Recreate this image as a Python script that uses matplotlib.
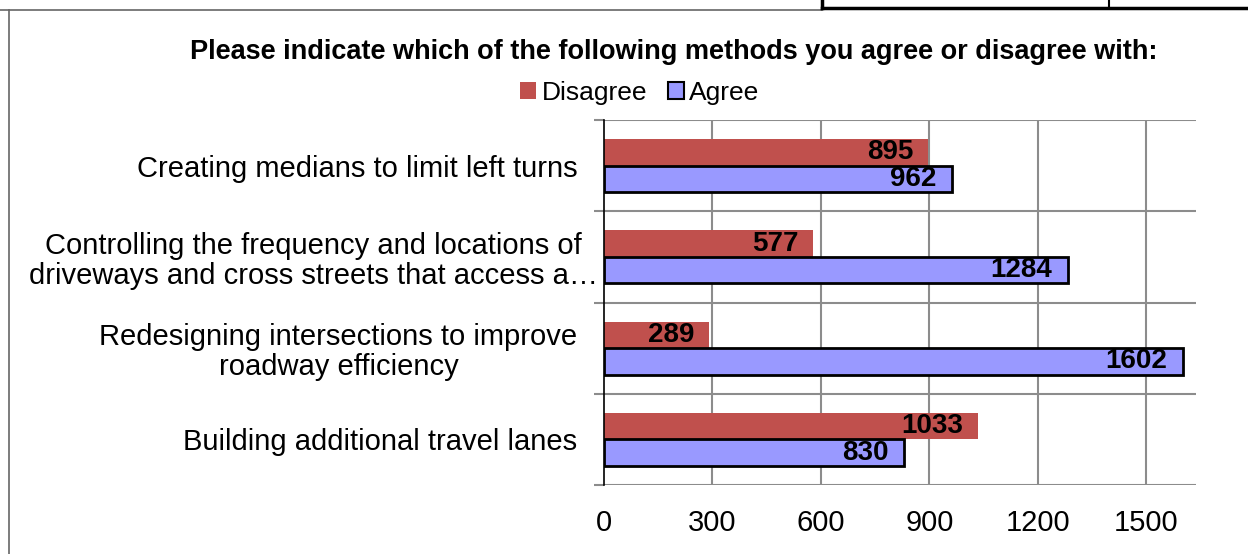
import matplotlib
matplotlib.use("Agg")
import matplotlib.pyplot as plt
from matplotlib.patches import Rectangle
from matplotlib.lines import Line2D
from matplotlib import font_manager
from matplotlib.transforms import ScaledTranslation

categories = [
    "Creating medians to limit left turns",
    "Controlling the frequency and locations of\ndriveways and cross streets that access a…",
    "Redesigning intersections to improve\nroadway efficiency",
    "Building additional travel lanes",
]
disagree = [895, 577, 289, 1033]
agree = [962, 1284, 1602, 830]
xticks = [0, 300, 600, 900, 1200, 1500]
title = "Please indicate which of the following methods you agree or disagree with:"

names = {f.name for f in font_manager.fontManager.ttflist}
narrow = "Liberation Sans Narrow" if "Liberation Sans Narrow" in names else "Liberation Sans"
base = "Liberation Sans"

RED = "#C0504D"
BLUE = "#9999FF"
W, H = 1248, 554
fig = plt.figure(figsize=(W / 100, H / 100), dpi=100)

def fx(px):
    return px / W

def fy(py):
    return 1 - py / H

# frame lines
fig.add_artist(Line2D([fx(9), fx(9)], [fy(10), 0], color="#666666", lw=1.2))
fig.add_artist(Line2D([0, fx(822)], [fy(10), fy(10)], color="#666666", lw=1.2))
fig.add_artist(Line2D([fx(822), 1], [fy(7.5), fy(7.5)], color="black", lw=2.5))
fig.add_artist(Line2D([fx(822), fx(822)], [1, fy(8)], color="black", lw=2.5))
fig.add_artist(Line2D([fx(1109), fx(1109)], [1, fy(8)], color="black", lw=1.5))

left, right, top, bottom = 604, 1196, 120, 485
ax = fig.add_axes([fx(left), fy(bottom), fx(right - left), (bottom - top) / H])
n = len(categories)
ys = list(range(n))
h = 0.29
ax.barh([y - h / 2 for y in ys], disagree, height=h, color=RED, edgecolor="none", zorder=3)
ax.barh([y + h / 2 for y in ys], agree, height=h, color=BLUE, edgecolor="black", linewidth=2, zorder=3)

xmax = 1637
ax.set_xlim(0, xmax)
ax.set_ylim(n - 0.5, -0.5)

for y, v in zip(ys, disagree):
    ax.annotate(str(v), (v, y - h / 2), xytext=(-14, 0), textcoords="offset pixels",
                ha="right", va="center", fontsize=20, fontweight="bold", family=narrow, zorder=5)
for y, v in zip(ys, agree):
    ax.annotate(str(v), (v, y + h / 2), xytext=(-16, 0), textcoords="offset pixels",
                ha="right", va="center", fontsize=20, fontweight="bold", family=narrow, zorder=5)

# grid
for x in xticks[1:]:
    ax.axvline(x, color="#8c8c8c", lw=1.5, zorder=1)
for b in [i - 0.5 for i in range(n + 1)]:
    ax.axhline(b, color="#8c8c8c", lw=1.5, zorder=1)

for s in ["top", "right", "bottom"]:
    ax.spines[s].set_visible(False)
ax.spines["left"].set_color("black")
ax.spines["left"].set_linewidth(1.2)
ax.spines["left"].set_zorder(4)

ax.set_xticks(xticks)
ax.set_xticklabels([str(t) for t in xticks], fontsize=21, family=narrow)
ax.tick_params(axis="x", length=0, pad=17)

ax.set_yticks(ys)
ax.set_yticklabels(categories, fontsize=21, family=base, multialignment="center",
                   linespacing=1.1)
ax.tick_params(axis="y", which="major", length=0, pad=19)
ax.set_yticks([i - 0.5 for i in range(n + 1)], minor=True)
ax.tick_params(axis="y", which="minor", length=7, color="#8c8c8c", width=1.5)

# the truncated label overflows toward the axis in the reference
lbl = ax.get_yticklabels()[1]
lbl.set_transform(lbl.get_transform() + ScaledTranslation(0.2, 0, fig.dpi_scale_trans))

fig.text(fx(674), fy(52), title, ha="center", va="center", fontsize=19.5, fontweight="bold", family=base)

# legend
handles = [Rectangle((0, 0), 1, 1, facecolor=RED, edgecolor="none"),
           Rectangle((0, 0), 1, 1, facecolor=BLUE, edgecolor="black", linewidth=1.5)]
fig.legend(handles, ["Disagree", "Agree"], loc="center", bbox_to_anchor=(fx(640), fy(93)),
           ncol=2, frameon=False, prop={"family": base, "size": 19},
           handlelength=0.6, handleheight=0.6, handletextpad=0.2, columnspacing=0.8)

fig.savefig("out.png", dpi=100)
